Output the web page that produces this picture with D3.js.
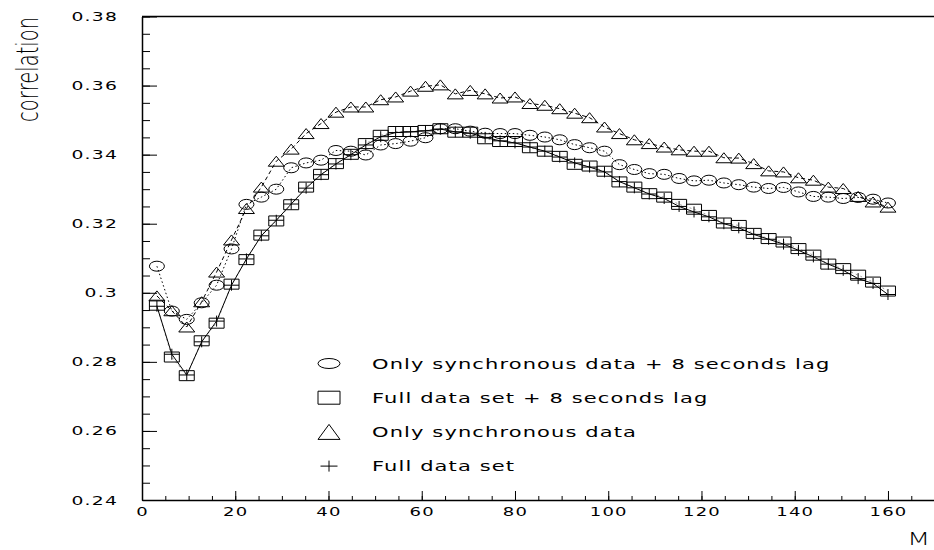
<!DOCTYPE html>
<html>
<head>
<meta charset="utf-8">
<script src="https://cdn.jsdelivr.net/npm/d3@7"></script>
<style>
  html, body { margin: 0; padding: 0; background: #fff; }
  svg { display: block; }
  text { font-family: "DejaVu Sans", sans-serif; fill: #000; }
</style>
</head>
<body>
<svg id="chart" width="934" height="550"></svg>
<script>
// Correlation as a function of the window length M, for four data selections.
const mValues = [3.2, 6.4, 9.6, 12.8, 16, 19.2, 22.4, 25.6, 28.8, 32,
  35.2, 38.4, 41.6, 44.8, 48, 51.2, 54.4, 57.6, 60.8, 64,
  67.2, 70.4, 73.6, 76.8, 80, 83.2, 86.4, 89.6, 92.8, 96,
  99.2, 102.4, 105.6, 108.8, 112, 115.2, 118.4, 121.6, 124.8, 128,
  131.2, 134.4, 137.6, 140.8, 144, 147.2, 150.4, 153.6, 156.8, 160];

// Only synchronous data + 8 seconds lag
const syncLag = [0.3077, 0.2947, 0.2923, 0.2971, 0.3022, 0.3127, 0.3256, 0.3277, 0.3300, 0.3362,
  0.3376, 0.3384, 0.3412, 0.3410, 0.3399, 0.3428, 0.3432, 0.3439, 0.3449, 0.3475,
  0.3475, 0.3468, 0.3462, 0.3461, 0.3461, 0.3456, 0.3451, 0.3443, 0.3429, 0.3420,
  0.3410, 0.3371, 0.3357, 0.3345, 0.3343, 0.3331, 0.3324, 0.3326, 0.3318, 0.3313,
  0.3306, 0.3302, 0.3305, 0.3292, 0.3279, 0.3277, 0.3273, 0.3276, 0.3271, 0.3260];

// Full data set + 8 seconds lag
const fullLag = [0.2964, 0.2814, 0.2760, 0.2861, 0.2912, 0.3025, 0.3096, 0.3167, 0.3208, 0.3255,
  0.3306, 0.3343, 0.3374, 0.3401, 0.3432, 0.3456, 0.3467, 0.3467, 0.3470, 0.3475,
  0.3465, 0.3465, 0.3446, 0.3438, 0.3438, 0.3420, 0.3410, 0.3395, 0.3372, 0.3367,
  0.3352, 0.3321, 0.3306, 0.3287, 0.3277, 0.3256, 0.3242, 0.3224, 0.3202, 0.3195,
  0.3172, 0.3157, 0.3147, 0.3128, 0.3109, 0.3083, 0.3070, 0.3051, 0.3031, 0.3005];

// Only synchronous data
const syncOnly = [0.2991, 0.2948, 0.2901, 0.2974, 0.3060, 0.3153, 0.3244, 0.3306, 0.3381, 0.3416,
  0.3461, 0.3490, 0.3523, 0.3538, 0.3538, 0.3559, 0.3567, 0.3584, 0.3598, 0.3602,
  0.3576, 0.3586, 0.3576, 0.3564, 0.3567, 0.3548, 0.3543, 0.3533, 0.3520, 0.3507,
  0.3480, 0.3461, 0.3443, 0.3432, 0.3422, 0.3414, 0.3410, 0.3410, 0.3391, 0.3390,
  0.3374, 0.3353, 0.3350, 0.3333, 0.3326, 0.3306, 0.3302, 0.3279, 0.3263, 0.3248];

// Full data set
const fullSet = [0.2961, 0.2822, 0.2762, 0.2858, 0.2918, 0.3022, 0.3098, 0.3165, 0.3210, 0.3257,
  0.3303, 0.3342, 0.3373, 0.3400, 0.3428, 0.3452, 0.3464, 0.3466, 0.3469, 0.3474,
  0.3466, 0.3462, 0.3450, 0.3440, 0.3434, 0.3422, 0.3410, 0.3393, 0.3376, 0.3364,
  0.3350, 0.3322, 0.3304, 0.3286, 0.3273, 0.3250, 0.3234, 0.3220, 0.3200, 0.3188,
  0.3169, 0.3155, 0.3141, 0.3123, 0.3104, 0.3083, 0.3065, 0.3041, 0.3027, 0.2995];

const yTickValues = [0.24, 0.26, 0.28, 0.30, 0.32, 0.34, 0.36, 0.38];
const xTickValues = [0, 20, 40, 60, 80, 100, 120, 140, 160];
const legendLabels = [
  "Only synchronous data + 8 seconds lag",
  "Full data set + 8 seconds lag",
  "Only synchronous data",
  "Full data set"
];
const yTitle = "correlation";
const xTitle = "M";

// ---- layout and style ----
const SX = 1.5;               // horizontal glyph stretch of all lettering
const svg = d3.select("#chart");

const x = d3.scaleLinear().domain([0, 170]).range([142, 934.6]);
const y = d3.scaleLinear().domain([0.24, 0.38]).range([500, 16.5]);

const seriesDefs = [
  { name: legendLabels[0], values: syncLag,  shape: "circle",   dash: "1.5,2.5", lineColor: "#000", lineWidth: 1 },
  { name: legendLabels[1], values: fullLag,  shape: "square",   dash: "2,3",     lineColor: "#888", lineWidth: 0.8 },
  { name: legendLabels[2], values: syncOnly, shape: "triangle", dash: "4,3",     lineColor: "#000", lineWidth: 1 },
  { name: legendLabels[3], values: fullSet,  shape: "plus",     dash: null,      lineColor: "#000", lineWidth: 1 }
];

// marker path for a shape of width w and height h, centred on 0,0
function markerPath(shape, w, h) {
  const a = w / 2, b = h / 2;
  if (shape === "square")   return `M${-a},${-b}H${a}V${b}H${-a}Z`;
  if (shape === "triangle") return `M${-a},${b}L0,${-b}L${a},${b}Z`;
  if (shape === "plus")     return `M${-a},0H${a}M0,${-b}V${b}`;
  // ellipse drawn as two arcs
  return `M${-a},0A${a},${b} 0 1,0 ${a},0A${a},${b} 0 1,0 ${-a},0Z`;
}

// ---- frame: top edge ----
svg.append("line")
  .attr("x1", x(0)).attr("x2", x(170))
  .attr("y1", y(0.38)).attr("y2", y(0.38))
  .attr("stroke", "#000").attr("stroke-width", 1.5);

// ---- y axis ----
const yMinor = d3.range(0.24, 0.3801, 0.005);
svg.append("g")
  .attr("transform", `translate(${x(0)},0)`)
  .call(d3.axisLeft(y).tickValues(yMinor).tickSizeInner(-8).tickSizeOuter(0).tickFormat(""))
  .call(g => g.select(".domain").remove())
  .call(g => g.selectAll(".tick line").attr("stroke-width", 1));

const yAxis = svg.append("g")
  .attr("transform", `translate(${x(0)},0)`)
  .call(d3.axisLeft(y).tickValues(yTickValues).tickSizeInner(-15).tickSizeOuter(0)
    .tickPadding(16).tickFormat(d => String(+d.toFixed(2))));
yAxis.select(".domain").attr("stroke-width", 1.5);
yAxis.selectAll(".tick line").attr("stroke-width", 1);
yAxis.selectAll(".tick text")
  .attr("transform", `scale(${SX},1)`)
  .style("font-size", "12.5px")
  .style("letter-spacing", "0.8px")
  .attr("fill", "#000");

// ---- x axis ----
const xMinor = d3.range(0, 171, 5);
svg.append("g")
  .attr("transform", `translate(0,${y(0.24)})`)
  .call(d3.axisBottom(x).tickValues(xMinor).tickSizeInner(-4).tickSizeOuter(0).tickFormat(""))
  .call(g => g.select(".domain").remove())
  .call(g => g.selectAll(".tick line").attr("stroke-width", 1));

const xAxis = svg.append("g")
  .attr("transform", `translate(0,${y(0.24)})`)
  .call(d3.axisBottom(x).tickValues(xTickValues).tickSizeInner(-9).tickSizeOuter(0)
    .tickPadding(7).tickFormat(d3.format("d")));
xAxis.select(".domain").attr("stroke-width", 1.5);
xAxis.selectAll(".tick line").attr("stroke-width", 1);
xAxis.selectAll(".tick text")
  .attr("transform", `scale(${SX},1)`)
  .style("font-size", "12px")
  .style("letter-spacing", "0.8px")
  .attr("fill", "#000");

// ---- axis titles ----
svg.append("text")
  .attr("transform", `translate(38,17) scale(${SX},1) rotate(-90)`)
  .attr("text-anchor", "end")
  .style("font-size", "19.5px")
  .style("font-weight", 200)
  .attr("fill", "#333")
  .text(yTitle);

svg.append("text")
  .attr("transform", `translate(907,545) scale(${SX},1)`)
  .style("font-size", "18px")
  .style("font-weight", 200)
  .attr("fill", "#333")
  .text(xTitle);

// ---- series lines ----
const line = d3.line().x((d, i) => x(mValues[i])).y(d => y(d));
const plot = svg.append("g");
seriesDefs.forEach(s => {
  plot.append("path")
    .datum(s.values)
    .attr("d", line)
    .attr("fill", "none")
    .attr("stroke", s.lineColor)
    .attr("stroke-width", s.lineWidth)
    .attr("stroke-dasharray", s.dash);
});

// ---- series markers ----
seriesDefs.forEach(s => {
  plot.append("g").selectAll("path")
    .data(s.values)
    .join("path")
    .attr("transform", (d, i) => `translate(${x(mValues[i])},${y(d)})`)
    .attr("d", markerPath(s.shape, s.shape === "triangle" ? 16 : 15, s.shape === "plus" ? 11 : 10))
    .attr("fill", "none")
    .attr("stroke", "#000")
    .attr("stroke-width", 1);
});

// ---- legend ----
const legend = svg.append("g");
const legendSizes = {
  circle: [22, 10], square: [22, 13], triangle: [22, 15], plus: [17, 11]
};
seriesDefs.forEach((s, i) => {
  const cy = 363.5 + i * 34.2;
  legend.append("path")
    .attr("transform", `translate(329,${cy})`)
    .attr("d", markerPath(s.shape, legendSizes[s.shape][0], legendSizes[s.shape][1]))
    .attr("fill", "none")
    .attr("stroke", "#000")
    .attr("stroke-width", 1);
  legend.append("text")
    .attr("transform", `translate(372,${cy + 5}) scale(${SX},1)`)
    .style("font-size", "14px")
    .style("letter-spacing", "0.75px")
    .text(s.name);
});
</script>
</body>
</html>
